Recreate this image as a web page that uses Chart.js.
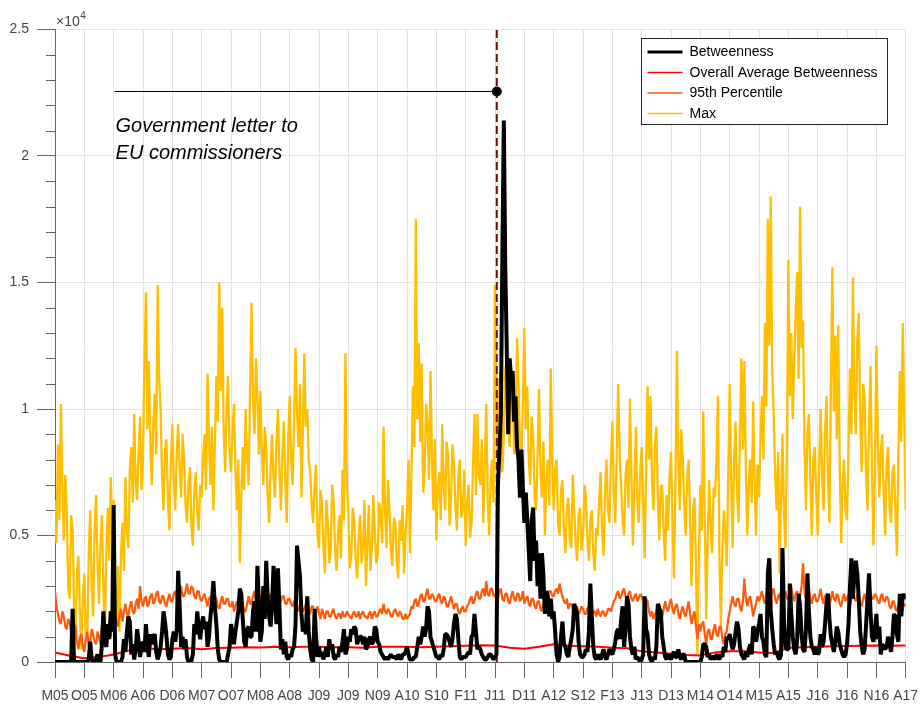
<!DOCTYPE html>
<html>
<head>
<meta charset="utf-8">
<title>Betweenness over time</title>
<script src="https://cdn.jsdelivr.net/npm/chart.js@4.4.1/dist/chart.umd.min.js"></script>
<style>
  html, body { margin: 0; padding: 0; background: #ffffff; }
  canvas { display: block; }
</style>
</head>
<body>
<canvas id="chart" width="920" height="707"></canvas>
<script>
// Period labels on the time axis (one per major tick)
const xTickLabels = ['M05','O05','M06','A06','D06','M07','O07','M08','A08','J09',
                     'J09','N09','A10','S10','F11','J11','D11','A12','S12','F13',
                     'J13','D13','M14','O14','M15','A15','J16','J16','N16','A17'];

// Samples per tick interval for the dense series, and for the average line
const samplesPerTick = 20;
const avgSamplesPerTick = 2;

// Betweenness of the node of interest
const betweenness = [
  0, 0, 0, 0, 0, 0, 0, 0, 0, 0, 0, 0, 2100, 0, 0, 0, 0, 0, 0, 0,
  0, 0, 0, 100, 800, 100, 0, 0, 100, 300, 0, 0, 700, 2000, 800, 600, 1500, 900, 2000, 1200,
  6200, 300, 0, 0, 0, 0, 200, 900, 400, 1200, 1800, 1600, 300, 700, 100, 500, 1300, 800, 200, 600,
  800, 400, 1500, 600, 200, 1100, 700, 1000, 1100, 400, 100, 300, 600, 1200, 2000, 1600, 1000, 300, 100, 200,
  900, 1200, 800, 1300, 3600, 2200, 600, 1000, 500, 900, 200, 0, 0, 50, 300, 1500, 1100, 2000, 1300, 900,
  1500, 1800, 1300, 1600, 600, 1000, 1800, 2400, 3200, 2200, 1500, 500, 100, 0, 0, 0, 0, 0, 300, 600,
  1500, 1100, 700, 1200, 1600, 2000, 2900, 2700, 1700, 800, 600, 1300, 1400, 1000, 1000, 2000, 2400, 1200, 3800, 2200,
  800, 1200, 3000, 1700, 4000, 2600, 1800, 1400, 2300, 3800, 2400, 1500, 3700, 2200, 500, 900, 300, 800, 200, 100,
  300, 200, 500, 600, 1500, 4600, 4000, 3400, 1900, 1200, 1500, 1100, 2600, 1200, 500, 100, 0, 2100, 1000, 200,
  600, 200, 400, 100, 300, 600, 200, 900, 500, 700, 200, 100, 300, 200, 600, 400, 800, 1300, 300, 500,
  1000, 800, 1300, 1100, 1400, 1300, 700, 900, 1000, 1000, 700, 1000, 500, 600, 900, 1000, 700, 800, 1400, 1300,
  800, 700, 400, 300, 200, 100, 200, 100, 200, 300, 200, 200, 200, 100, 300, 200, 100, 300, 300, 400,
  600, 300, 100, 100, 100, 200, 200, 600, 1000, 700, 1000, 1400, 1000, 1300, 2200, 2000, 1000, 800, 600, 400,
  200, 200, 100, 300, 200, 500, 1100, 1100, 1000, 800, 600, 900, 1500, 1900, 1700, 900, 200, 100, 200, 200,
  200, 300, 400, 300, 1000, 1100, 1900, 1200, 500, 600, 500, 300, 200, 100, 100, 200, 300, 300, 200, 100,
  200, 300, 7000, 8300, 9800, 16000, 21400, 15600, 12400, 9000, 12000, 11200, 11500, 9500, 10500, 8500, 8000, 6500, 8400, 6900,
  5500, 6700, 5600, 4400, 3200, 5600, 6100, 4000, 4800, 3000, 4300, 2500, 4300, 3400, 1900, 2800, 2600, 1800, 2500, 1700,
  2000, 1200, 300, 0, 200, 1000, 1600, 700, 600, 300, 200, 600, 900, 1300, 2300, 2100, 1900, 800, 300, 200,
  200, 300, 500, 400, 1200, 3100, 1800, 600, 200, 100, 300, 200, 100, 300, 500, 200, 100, 300, 500, 400,
  300, 500, 800, 1200, 1300, 900, 1700, 2200, 600, 1300, 2600, 2300, 1000, 500, 300, 600, 100, 200, 100, 0,
  100, 300, 2600, 1300, 1100, 300, 100, 0, 200, 100, 600, 2300, 2100, 2000, 1000, 600, 200, 100, 300, 200,
  100, 300, 400, 200, 200, 500, 200, 100, 300, 300, 0, 0, 0, 0, 0, 0, 0, 0, 0, 0,
  0, 200, 700, 700, 600, 200, 300, 100, 200, 200, 100, 300, 200, 100, 300, 200, 600, 400, 1000, 900,
  1100, 800, 500, 700, 1200, 1600, 1300, 600, 300, 200, 100, 400, 200, 500, 700, 300, 1400, 1300, 800, 1200,
  1500, 1900, 1000, 800, 300, 200, 3500, 4100, 2000, 1300, 700, 300, 400, 200, 100, 300, 4500, 1700, 600, 500,
  500, 3100, 1900, 1000, 500, 300, 900, 2700, 2200, 1100, 500, 400, 1300, 3500, 2000, 1000, 600, 500, 300, 600,
  300, 400, 1100, 600, 800, 1500, 2300, 2700, 1700, 1000, 700, 400, 800, 1400, 1200, 700, 500, 300, 200, 300,
  700, 1500, 3000, 4100, 2500, 3500, 4000, 3500, 2500, 1200, 600, 300, 500, 1500, 2500, 3500, 2000, 1000, 800, 1200,
  1900, 900, 1400, 300, 700, 600, 500, 600, 1000, 700, 400, 1000, 1900, 1800, 1100, 800, 2700, 1800, 2700, 2500,
  2700
];

// Average betweenness over all nodes
const overallAverage = [
  380, 250, 150, 200, 300, 450, 550, 500, 520, 550,
  500, 550, 560, 580, 570, 600, 580, 600, 600, 580,
  580, 560, 600, 600, 600, 580, 600, 620, 640, 660,
  650, 560, 520, 600, 700, 640, 620, 600, 560, 540,
  420, 380, 330, 280, 260, 380, 420, 420, 380, 360,
  560, 580, 600, 620, 630, 640, 650, 640, 650
];

// 95th percentile of betweenness over all nodes
const percentile95 = [
  2800, 2200, 1900, 1600, 1500, 2000, 1800, 1400, 1300, 1700, 1600, 1100, 1200, 1500, 1400, 800, 500, 1000, 1100, 600,
  400, 900, 1200, 600, 800, 1300, 1100, 800, 700, 1200, 1000, 700, 1400, 1100, 900, 1300, 1500, 1200, 1000, 1600,
  1300, 1700, 1600, 1400, 1900, 2100, 1600, 2000, 2300, 1900, 1800, 2200, 2400, 2000, 1900, 2300, 2500, 2100, 3000, 2400,
  2200, 2500, 2600, 2200, 2300, 2600, 2700, 2300, 2400, 2700, 2800, 2400, 2300, 2600, 2600, 2300, 2200, 2500, 2700, 2400,
  2400, 2700, 2800, 2500, 2500, 2900, 3000, 2600, 2600, 2800, 3100, 2700, 2700, 3000, 2900, 2600, 2500, 2800, 2800, 2500,
  2400, 2600, 2700, 2400, 2200, 2500, 2600, 2300, 2300, 2600, 2500, 2200, 2100, 2400, 2600, 2300, 2300, 2500, 2500, 2200,
  2200, 2400, 2000, 2200, 2400, 2100, 2100, 2400, 2300, 2000, 2000, 2300, 2600, 2300, 2300, 2600, 2800, 2500, 2400, 2700,
  2600, 2400, 2200, 2500, 2700, 2400, 2400, 2700, 2600, 2300, 2300, 2600, 2700, 2400, 2400, 2600, 2600, 2300, 2300, 2500,
  2500, 2300, 2200, 2400, 2400, 2100, 2000, 2300, 2300, 2000, 2100, 2300, 2400, 2100, 1900, 2200, 2200, 1900, 2000, 2200,
  1900, 1700, 2100, 1900, 1700, 2000, 2000, 1800, 1800, 2000, 2100, 1800, 1700, 1900, 1900, 1700, 2000, 1800, 1800, 2000,
  1900, 1800, 1700, 1900, 2000, 1800, 1800, 2000, 1700, 1900, 2000, 1800, 1800, 1700, 1900, 2000, 1700, 1900, 2000, 1800,
  1800, 2000, 2100, 1900, 2300, 2000, 1900, 2100, 2000, 1800, 1800, 2000, 2100, 1900, 1800, 2000, 1900, 1700, 1700, 1900,
  1700, 1800, 1900, 2200, 2100, 2400, 2500, 2200, 2300, 2600, 2700, 2400, 2400, 2700, 2900, 2500, 2500, 2700, 2600, 2400,
  2400, 2600, 2700, 2400, 2300, 2600, 2500, 2200, 2200, 2400, 2600, 2300, 2100, 2300, 2300, 2000, 1900, 2100, 2200, 2000,
  2000, 2200, 2300, 2500, 2600, 2300, 2400, 2700, 2800, 2500, 2500, 2800, 2900, 2600, 3200, 2700, 2600, 2900, 2900, 2600,
  2700, 2400, 2500, 2800, 2900, 2500, 2400, 2700, 2700, 2400, 2300, 2600, 2800, 2500, 2400, 2700, 2700, 2400, 2500, 2800,
  2300, 2500, 2600, 2300, 2200, 2500, 2500, 2200, 2100, 2400, 2400, 2100, 2000, 2300, 2300, 2500, 2600, 2800, 2800, 2600,
  2600, 2800, 2900, 2700, 3100, 2800, 2600, 2400, 2300, 2500, 2100, 2300, 2300, 2100, 1900, 2100, 2200, 1900, 2000, 2200,
  2100, 1900, 1900, 2100, 2200, 1900, 1800, 2000, 2000, 1800, 2100, 1900, 1800, 2000, 2000, 1800, 1900, 2100, 2100, 2000,
  2200, 2400, 2500, 2700, 2800, 2500, 2600, 2800, 2900, 2600, 2500, 2700, 2800, 2500, 2400, 2600, 2700, 2400, 2500, 2700,
  2600, 2400, 2200, 2500, 2400, 2000, 1800, 2000, 1700, 1900, 2000, 2200, 2300, 2000, 1800, 2100, 2400, 2100, 2000, 2300,
  2500, 2100, 1900, 2200, 2300, 1900, 1700, 2000, 2200, 1900, 1800, 2100, 2400, 1900, 1500, 1800, 2000, 1400, 900, 1500,
  1200, 1500, 1600, 1100, 700, 1200, 1300, 900, 900, 1300, 1500, 1100, 1000, 1400, 1400, 900, 700, 1100, 1200, 1700,
  2000, 2300, 2600, 2300, 2200, 2500, 2500, 2200, 2000, 2400, 3300, 2500, 2200, 2500, 2600, 2200, 1800, 2100, 2300, 2600,
  2400, 2600, 2800, 2500, 2300, 2700, 3000, 2600, 2500, 2800, 2900, 2500, 2300, 2600, 2700, 2400, 2400, 2700, 2800, 2500,
  2500, 2800, 3000, 2600, 2400, 2700, 2800, 2500, 2600, 3000, 3900, 2800, 2500, 2700, 2900, 2500, 2300, 2600, 2700, 2400,
  2400, 2600, 2900, 2500, 2300, 2600, 2700, 2400, 2200, 2500, 2800, 2500, 2400, 2700, 2600, 2300, 2200, 2500, 2700, 2400,
  2500, 2700, 2200, 2500, 2800, 2500, 2400, 2700, 2600, 2300, 2200, 2500, 2700, 2400, 2300, 2600, 2800, 2500, 2500, 2700,
  2600, 2400, 2300, 2600, 2700, 2400, 2400, 2600, 2500, 2200, 2100, 2400, 2400, 2100, 2000, 2300, 2300, 2000, 2100, 2300,
  2200
];

// Maximum betweenness over all nodes
const maxBetweenness = [
  6400, 4700, 8600, 5600, 10200, 7000, 4800, 7400, 6100, 3000, 2500, 5800, 5300, 2200, 900, 3600, 4200, 1800, 500, 2600,
  3500, 1100, 800, 4300, 6000, 3000, 1800, 5200, 6600, 3900, 2300, 4700, 5800, 2900, 1200, 4400, 6100, 4000, 7300, 5000,
  6400, 2600, 1500, 3800, 1200, 4200, 5500, 3600, 7300, 5200, 4500, 7600, 8500, 6300, 9800, 7100, 6400, 8300, 9700, 6800,
  8000, 12000, 14600, 9200, 11900, 8600, 7000, 9400, 10600, 8200, 14900, 11300, 10000, 7300, 6000, 8400, 8800, 6400, 5200, 7900,
  9400, 7200, 6000, 8300, 9400, 7600, 6500, 9000, 8000, 6200, 5500, 7100, 7700, 5400, 4600, 6800, 7500, 5900, 5200, 7000,
  6500, 8200, 9000, 6800, 11400, 8700, 7000, 9300, 6000, 8600, 11300, 9500, 15000, 10700, 14000, 9200, 7500, 10100, 11300, 8400,
  7500, 9100, 10200, 7700, 6000, 8000, 3900, 6500, 8500, 6800, 10000, 8100, 7000, 10800, 14200, 10400, 9000, 12000, 10500, 8200,
  10700, 8400, 7000, 9300, 8500, 6600, 5500, 7800, 9000, 7300, 6500, 8700, 10000, 7600, 6000, 8100, 9500, 7200, 5500, 8800,
  10500, 8100, 7000, 9600, 12400, 9800, 8500, 11000, 6500, 9200, 12200, 9300, 10000, 8000, 7500, 6200, 5500, 7000, 7800, 5000,
  4500, 6800, 6200, 4600, 3500, 6400, 5500, 3900, 4500, 7000, 6300, 4400, 3600, 5200, 5800, 4100, 7600, 5600, 12200, 7000,
  5900, 3700, 4200, 6100, 5500, 4100, 3300, 4900, 5800, 3900, 4500, 6400, 3000, 4700, 6200, 3600, 4500, 6600, 5300, 3900,
  4200, 6300, 5800, 4700, 9300, 6100, 4500, 7200, 6000, 4400, 3800, 5700, 5500, 4000, 3300, 5600, 4800, 6200, 3500, 5100,
  6000, 8000, 4300, 7400, 10900, 8500, 17500, 9600, 12600, 8700, 11800, 6700, 7500, 10200, 9500, 7200, 11500, 8100, 6000, 8800,
  4800, 6900, 7500, 5600, 9400, 7000, 6000, 8700, 8200, 5400, 6500, 8600, 7800, 6100, 5200, 7300, 8000, 5700, 6000, 7600,
  4600, 6300, 7000, 4900, 5500, 7800, 9800, 6600, 9800, 7400, 7000, 8800, 5500, 7700, 10200, 6500, 5000, 7200, 8000, 6300,
  14900, 9500, 8000, 11200, 10000, 7500, 9000, 11600, 12000, 9300, 8500, 10400, 11000, 8200, 9000, 12800, 11150, 8600, 8000, 10300,
  13200, 9200, 10900, 8000, 7000, 9700, 9000, 6500, 6000, 8200, 10800, 7600, 6500, 8700, 5000, 7100, 8000, 6200, 11600, 7800,
  6000, 7600, 8000, 5500, 5000, 6800, 7200, 5200, 4300, 6100, 6500, 4800, 4500, 7400, 6000, 4700, 4000, 5800, 6100, 4400,
  5000, 7000, 6500, 4800, 4000, 5600, 6000, 4300, 3600, 5300, 5000, 6400, 7500, 5100, 4200, 6700, 8000, 6000, 5500, 7800,
  9500, 6800, 5500, 8400, 11000, 8000, 7000, 5600, 5000, 7400, 8000, 6100, 10400, 7300, 4600, 7000, 9300, 6400, 5500, 7600,
  8500, 6300, 4100, 7600, 10900, 8000, 10500, 7200, 6000, 8600, 9300, 6500, 4800, 6900, 7000, 5100, 4000, 6600, 5200, 7300,
  8300, 5600, 3300, 7000, 12300, 7900, 6000, 9200, 8000, 6200, 5000, 7300, 8000, 5500, 3000, 5900, 6500, 3800, 300, 4200,
  7000, 5200, 9900, 5700, 1700, 4800, 7200, 5400, 4300, 6900, 6500, 8100, 10500, 4200, 1400, 4500, 6000, 5000, 3800, 7400,
  11000, 7300, 4500, 8100, 9500, 6700, 5500, 8900, 12000, 8400, 11900, 7600, 5000, 7000, 8000, 6300, 10300, 7100, 5000, 7800,
  6500, 8800, 10500, 8000, 13400, 10100, 17500, 12500, 18400, 11500, 9800, 7400, 6000, 8300, 3500, 6400, 9000, 5900, 4500, 8200,
  15900, 10500, 13000, 9600, 11800, 13800, 15400, 11200, 18000, 12400, 13500, 8500, 6000, 9100, 9800, 7200, 5000, 8000, 8500, 6600,
  5000, 7700, 10000, 7400, 6000, 9100, 10500, 7200, 5500, 10800, 15600, 9900, 12900, 8800, 13300, 7900, 4700, 7000, 8000, 6000,
  5600, 8400, 11600, 9000, 15200, 10600, 9000, 12700, 13800, 9700, 7500, 11000, 10500, 7300, 6000, 9400, 11700, 7600, 4600, 7500,
  12500, 8800, 6500, 8200, 9000, 6700, 5000, 7900, 8500, 6100, 5500, 7500, 7800, 5900, 4200, 8200, 11500, 8700, 13400, 9600,
  6000
];

// Event marker: position on the time axis (tick units) and height of the callout
const eventX = 15.06;
const eventY = 22550;
const calloutStartX = 2.03;
const calloutText = ['Government letter to', 'EU commissioners'];

// Y axis range and tick spacing
const yMax = 25000;
const yMajorStep = 5000;
const yMinorStep = 1000;

const FONT = '"Liberation Sans", Arial, Helvetica, sans-serif';

const toPoints = (vals, perTick) => vals.map((v, i) => ({ x: i / perTick, y: v }));

const legendItems = [
  { label: 'Betweenness', color: '#000000', width: 3 },
  { label: 'Overall Average Betweenness', color: '#ff0000', width: 1.6 },
  { label: '95th Percentile', color: '#ff5a0a', width: 1.6 },
  { label: 'Max', color: '#ffbf00', width: 1.6 }
];

const decorations = {
  id: 'decorations',
  afterDraw(chart) {
    const { ctx, chartArea: a, scales: { x, y } } = chart;
    ctx.save();

    // minor ticks on the value axis
    ctx.strokeStyle = '#666666';
    ctx.lineWidth = 1;
    for (let v = yMinorStep; v < yMax; v += yMinorStep) {
      if (v % yMajorStep === 0) continue;
      const py = Math.round(y.getPixelForValue(v)) + 0.5;
      ctx.beginPath();
      ctx.moveTo(a.left - 9, py);
      ctx.lineTo(a.left, py);
      ctx.stroke();
    }

    // exponent of the value axis
    ctx.fillStyle = '#444444';
    ctx.textAlign = 'left';
    ctx.textBaseline = 'alphabetic';
    ctx.font = '14px ' + FONT;
    ctx.fillText('\u00D710', a.left + 1, a.top - 3.5);
    const w = ctx.measureText('\u00D710').width;
    ctx.font = '10px ' + FONT;
    ctx.fillText('4', a.left + 1.5 + w, a.top - 10.5);

    // callout text under the event line
    ctx.fillStyle = '#000000';
    ctx.font = 'italic 20px ' + FONT;
    const tx = x.getPixelForValue(calloutStartX) + 1;
    const ty = y.getPixelForValue(eventY);
    calloutText.forEach((t, k) => ctx.fillText(t, tx, ty + 41 + k * 26.6));

    // legend box
    const bw = 246, bh = 86;
    const bx = Math.round(a.right - 18.5 - bw) + 0.5;
    const by = Math.round(a.top + 8.8) + 0.5;
    ctx.fillStyle = '#ffffff';
    ctx.fillRect(bx, by, bw, bh);
    ctx.strokeStyle = '#262626';
    ctx.lineWidth = 1;
    ctx.strokeRect(bx, by, bw, bh);
    ctx.font = '14px ' + FONT;
    ctx.textBaseline = 'middle';
    legendItems.forEach((it, k) => {
      const ry = by + 13.5 + k * 20.5;
      ctx.strokeStyle = it.color;
      ctx.lineWidth = it.width;
      ctx.beginPath();
      ctx.moveTo(bx + 6, ry);
      ctx.lineTo(bx + 41, ry);
      ctx.stroke();
      ctx.fillStyle = '#000000';
      ctx.fillText(it.label, bx + 48, ry + 0.5);
    });

    ctx.restore();
  }
};

const tickFont = { family: FONT, size: 14 };

new Chart(document.getElementById('chart'), {
  type: 'line',
  data: {
    datasets: [
      {
        label: 'Government letter to EU commissioners',
        data: [{ x: calloutStartX, y: eventY }, { x: eventX, y: eventY }],
        borderColor: '#000000',
        borderWidth: 1,
        pointRadius: [0, 5],
        pointBackgroundColor: '#000000',
        pointBorderWidth: 0,
        order: -1
      },
      {
        label: 'Betweenness',
        data: toPoints(betweenness, samplesPerTick),
        borderColor: '#000000',
        borderWidth: 4,
        borderJoinStyle: 'bevel',
        order: 0
      },
      {
        label: 'Overall Average Betweenness',
        data: toPoints(overallAverage, avgSamplesPerTick),
        borderColor: '#ff0000',
        borderWidth: 2,
        order: 1
      },
      {
        label: '95th Percentile',
        data: toPoints(percentile95, samplesPerTick),
        borderColor: '#ff5a0a',
        borderWidth: 2.2,
        borderJoinStyle: 'bevel',
        order: 2
      },
      {
        label: 'Event',
        data: [{ x: eventX, y: 0 }, { x: eventX, y: yMax }],
        borderColor: '#7a0a0a',
        borderWidth: 2,
        borderDash: [8, 4],
        order: 3
      },
      {
        label: 'Max',
        data: toPoints(maxBetweenness, samplesPerTick),
        borderColor: '#ffbf00',
        borderWidth: 2.3,
        borderJoinStyle: 'bevel',
        order: 4
      }
    ]
  },
  options: {
    responsive: false,
    maintainAspectRatio: false,
    devicePixelRatio: 1,
    animation: false,
    events: [],
    layout: { padding: { top: 29.5, right: 14.3, bottom: 0, left: 0 }, autoPadding: false },
    elements: {
      line: { tension: 0, fill: false },
      point: { radius: 0, hoverRadius: 0 }
    },
    plugins: {
      legend: { display: false },
      tooltip: { enabled: false },
      title: { display: false }
    },
    scales: {
      x: {
        type: 'linear',
        min: 0,
        max: xTickLabels.length - 1,
        afterFit(scale) {
          scale.height = 45;
          scale.paddingLeft = 0;
          scale.paddingRight = 0;
        },
        ticks: {
          stepSize: 1,
          autoSkip: false,
          maxRotation: 0,
          minRotation: 0,
          padding: 10,
          color: '#444444',
          font: tickFont,
          callback: (v) => xTickLabels[v] !== undefined ? xTickLabels[v] : ''
        },
        grid: { color: '#e3e3e3', lineWidth: 1, tickLength: 16, tickColor: '#666666', drawTicks: true },
        border: { display: true, color: '#666666', width: 1 }
      },
      y: {
        type: 'linear',
        min: 0,
        max: yMax,
        afterFit(scale) {
          scale.width = 55;
          scale.paddingTop = 0;
          scale.paddingBottom = 0;
        },
        ticks: {
          stepSize: yMajorStep,
          padding: 8,
          color: '#444444',
          font: tickFont,
          callback: (v) => String(v / 10000)
        },
        grid: { color: '#e3e3e3', lineWidth: 1, tickLength: 18, tickColor: '#666666', drawTicks: true },
        border: { display: true, color: '#666666', width: 1 }
      }
    }
  },
  plugins: [decorations]
});
</script>
</body>
</html>
